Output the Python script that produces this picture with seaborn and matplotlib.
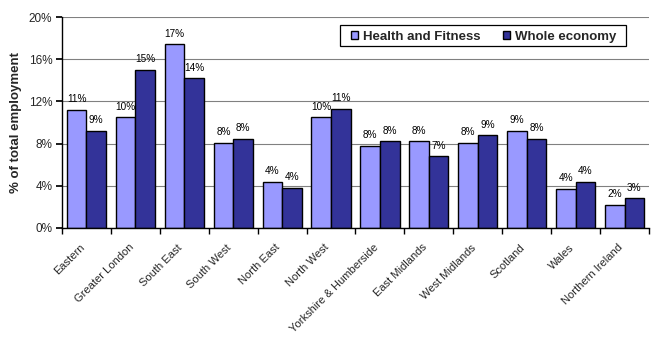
import matplotlib
matplotlib.use("Agg")
import matplotlib.pyplot as plt
import matplotlib.transforms as mtransforms
from matplotlib.patches import Rectangle
import seaborn as sns
import pandas as pd
import numpy as np
from matplotlib.ticker import FixedLocator, PercentFormatter

regions = ["Eastern", "Greater London", "South East", "South West", "North East",
           "North West", "Yorkshire & Humberside", "East Midlands", "West Midlands",
           "Scotland", "Wales", "Northern Ireland"]
health_fitness = [11.2, 10.5, 17.4, 8.1, 4.4, 10.5, 7.8, 8.2, 8.1, 9.2, 3.7, 2.2]
whole_economy = [9.2, 15.0, 14.2, 8.45, 3.8, 11.3, 8.2, 6.8, 8.8, 8.45, 4.4, 2.8]
series_names = ["Health and Fitness", "Whole economy"]
y_ticks = [0, 4, 8, 12, 16, 20]

df = pd.DataFrame({
    "Region": regions * 2,
    "Series": [series_names[0]] * len(regions) + [series_names[1]] * len(regions),
    "Value": health_fitness + whole_economy,
})

sns.set_theme(style="white")
plt.rcParams["font.family"] = ["Liberation Sans", "DejaVu Sans"]

W, H = 656, 345
fig = plt.figure(figsize=(W / 100, H / 100), dpi=100)
ax = fig.add_axes([62 / W, 1 - 228 / H, (649 - 62) / W, (228 - 17) / H])

sns.barplot(data=df, x="Region", y="Value", hue="Series", ax=ax,
            palette=["#9999FF", "#333399"], width=0.8,
            edgecolor="black", linewidth=1.0, saturation=1)

for cont in ax.containers:
    ax.bar_label(cont, labels=[f"{round(v.get_height()):.0f}%" for v in cont],
                 fontsize=7.2, padding=4, color="black")

ax.set_ylim(0, 20)
ax.set_xlim(-0.5, len(regions) - 0.5)
ax.yaxis.set_major_locator(FixedLocator(y_ticks))
ax.yaxis.set_major_formatter(PercentFormatter(decimals=0))
ax.grid(axis="y", color="#808080", linewidth=0.8)
ax.set_axisbelow(True)
for s in ["top", "right"]:
    ax.spines[s].set_visible(False)
for s in ["left", "bottom"]:
    ax.spines[s].set_color("black")
    ax.spines[s].set_linewidth(1.0)

ax.tick_params(axis="y", left=True, length=4, color="black", labelsize=8.5, pad=3)
ax.set_xticks(range(len(regions)))
ax.set_xticklabels(regions, rotation=45, ha="right", rotation_mode="anchor",
                   fontsize=8)
ax.tick_params(axis="x", which="major", length=0, pad=6)
ax.set_xticks(np.arange(-0.5, len(regions), 1), minor=True)
ax.tick_params(axis="x", which="minor", bottom=True, length=4, color="black")
offset = mtransforms.ScaledTranslation(-7 / 100, -6 / 100, fig.dpi_scale_trans)
for lab in ax.get_xticklabels():
    lab.set_transform(lab.get_transform() + offset)

ax.set_xlabel("")
ax.set_ylabel("% of total employment", fontsize=9.5, fontweight="bold", labelpad=5)

# legend frame box
fig.patches.append(Rectangle((340 / W, 1 - 46 / H), (626 - 340) / W, 21 / H,
                             transform=fig.transFigure, facecolor="white",
                             edgecolor="black", linewidth=0.9, zorder=5))
leg = fig.legend(*ax.get_legend_handles_labels(), loc="center",
                 bbox_to_anchor=(483.5 / W, 1 - 37 / H), bbox_transform=fig.transFigure,
                 ncol=2, frameon=False, prop={"weight": "bold", "size": 9.5},
                 handlelength=0.55, handleheight=0.55, handletextpad=0.35,
                 columnspacing=1.7, borderpad=0, borderaxespad=0)
leg.set_zorder(6)
ax.get_legend().remove()

fig.savefig("out.png", dpi=100)
